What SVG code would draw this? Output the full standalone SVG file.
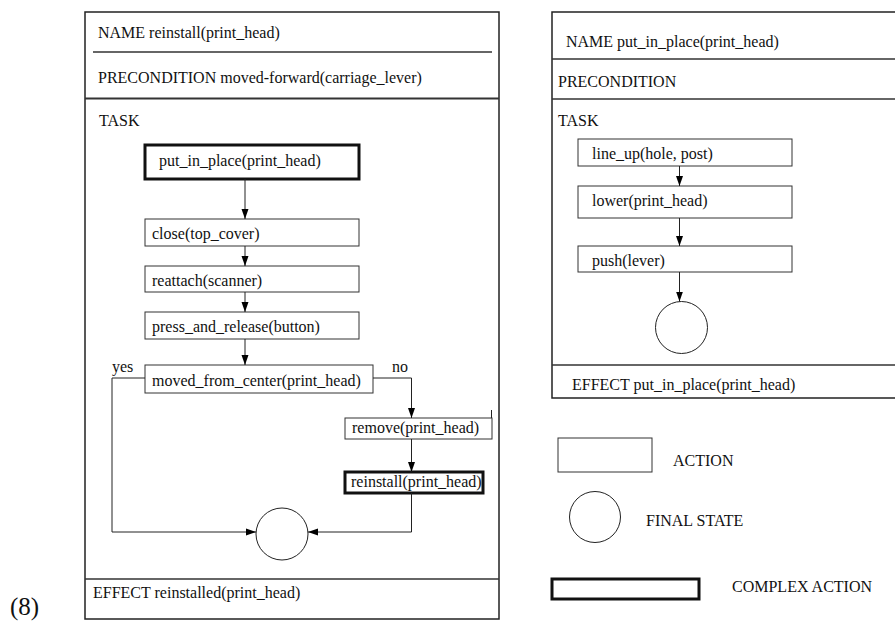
<svg xmlns="http://www.w3.org/2000/svg" width="895" height="626" viewBox="0 0 895 626">
<style>
text{font-family:"Liberation Serif","Times New Roman",serif;font-size:16px;fill:#111}
.lg{font-size:16px}
.frame{fill:none;stroke:#222;stroke-width:1.5}
.sep{stroke:#333;stroke-width:1.3}
.act{fill:#fff;stroke:#333;stroke-width:1}
.cx{fill:#fff;stroke:#111;stroke-width:3}
.fs{fill:#fff;stroke:#222;stroke-width:1}
.c{fill:none;stroke:#222;stroke-width:1}
</style>
<defs>
<marker id="ah" viewBox="0 0 10 10" refX="10" refY="5" markerWidth="10" markerHeight="10" markerUnits="userSpaceOnUse" orient="auto">
<path d="M0,1.5 L10,5 L0,8.5 Z" fill="#000"/>
</marker>
</defs>
<rect width="895" height="626" fill="#fff"/>
<text x="10" y="615" style="font-size:25px">(8)</text>

<g id="frame-reinstall">
<rect class="frame" x="85" y="12" width="414" height="607"/>
<line class="sep" x1="93" y1="52" x2="492" y2="52"/>
<line class="sep" x1="85" y1="98.5" x2="499" y2="98.5" style="stroke-width:2"/>
<line class="sep" x1="85" y1="579" x2="499" y2="579"/>
<text x="98" y="38">NAME reinstall(print_head)</text>
<text x="98" y="83">PRECONDITION moved-forward(carriage_lever)</text>
<text x="99" y="126">TASK</text>
<text x="93" y="598">EFFECT reinstalled(print_head)</text>
</g>

<g id="n-put-in-place"><rect class="cx" x="145" y="145" width="214" height="34"/><text x="159" y="166">put_in_place(print_head)</text></g>
<g id="n-close"><rect class="act" x="145" y="219" width="214" height="27"/><text x="152" y="239">close(top_cover)</text></g>
<g id="n-reattach"><rect class="act" x="145" y="266" width="214" height="26"/><text x="152" y="286">reattach(scanner)</text></g>
<g id="n-press"><rect class="act" x="145" y="312" width="214" height="27"/><text x="152" y="332">press_and_release(button)</text></g>
<g id="n-moved"><rect class="act" x="145" y="365" width="228" height="28"/><text x="152" y="386">moved_from_center(print_head)</text></g>
<g id="n-remove"><rect class="act" x="345" y="418" width="147" height="21"/><line class="c" x1="491.5" y1="410" x2="491.5" y2="418"/><text x="352" y="433">remove(print_head)</text></g>
<g id="n-reinstall"><rect class="cx" x="345" y="472" width="138" height="21"/><text x="351" y="487">reinstall(print_head)</text></g>
<g id="n-final-left"><circle class="fs" cx="282" cy="534" r="26"/></g>
<text x="112" y="372">yes</text>
<text x="392" y="372">no</text>

<g id="frame-put">
<path class="frame" d="M895,12 H552 V398 H895"/>
<line class="sep" x1="552" y1="59" x2="895" y2="59"/>
<line class="sep" x1="552" y1="99" x2="895" y2="99"/>
<line class="sep" x1="552" y1="365" x2="895" y2="365"/>
<text x="566" y="47">NAME put_in_place(print_head)</text>
<text x="558" y="87">PRECONDITION</text>
<text x="558" y="126">TASK</text>
<text x="572" y="390">EFFECT put_in_place(print_head)</text>
</g>
<g id="n-lineup"><rect class="act" x="578" y="139" width="214" height="27"/><text x="592" y="159">line_up(hole, post)</text></g>
<g id="n-lower"><rect class="act" x="578" y="186" width="214" height="32"/><text x="592" y="206">lower(print_head)</text></g>
<g id="n-push"><rect class="act" x="578" y="246" width="214" height="26"/><text x="592" y="266">push(lever)</text></g>
<g id="n-final-right"><circle class="fs" cx="681.5" cy="327.5" r="26"/></g>

<g id="legend">
<g id="lg-action"><rect class="act" x="558" y="438" width="94" height="34"/><text class="lg" x="673" y="466">ACTION</text></g>
<g id="lg-final"><circle class="fs" cx="595" cy="517" r="25.5"/><text class="lg" x="646" y="526">FINAL STATE</text></g>
<g id="lg-complex"><rect class="cx" x="552" y="579" width="147" height="20"/><text class="lg" x="732" y="592">COMPLEX ACTION</text></g>
</g>

<g id="connectors">
<line class="c" x1="245" y1="179" x2="245" y2="219" marker-end="url(#ah)"/>
<line class="c" x1="245" y1="246" x2="245" y2="266" marker-end="url(#ah)"/>
<line class="c" x1="245" y1="292" x2="245" y2="312" marker-end="url(#ah)"/>
<line class="c" x1="245" y1="339" x2="245" y2="365" marker-end="url(#ah)"/>
<polyline class="c" points="145,378 112,378 112,532 256,532" marker-end="url(#ah)"/>
<polyline class="c" points="373,378 411.5,378 411.5,418" marker-end="url(#ah)"/>
<line class="c" x1="411.5" y1="439" x2="411.5" y2="472" marker-end="url(#ah)"/>
<polyline class="c" points="411.5,493 411.5,532 308,532" marker-end="url(#ah)"/>
<line class="c" x1="679.5" y1="166" x2="679.5" y2="186" marker-end="url(#ah)"/>
<line class="c" x1="679.5" y1="218" x2="679.5" y2="246" marker-end="url(#ah)"/>
<line class="c" x1="679.5" y1="272" x2="679.5" y2="301.5" marker-end="url(#ah)"/>
</g>
</svg>
